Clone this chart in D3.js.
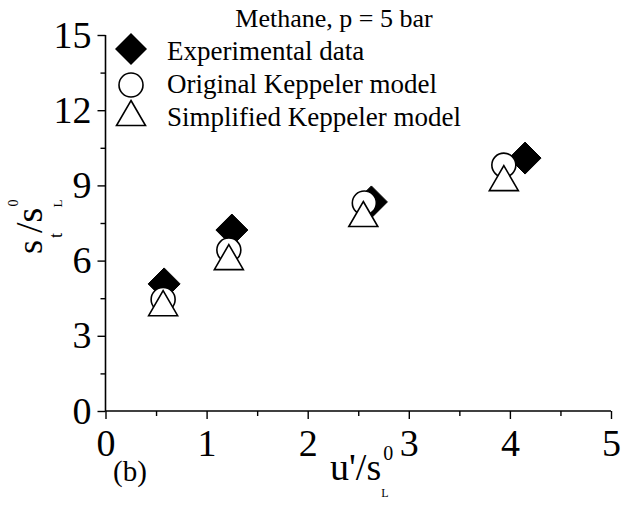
<!DOCTYPE html>
<html>
<head>
<meta charset="utf-8">
<script src="https://cdn.jsdelivr.net/npm/d3@7"></script>
<style>
  html, body { margin: 0; padding: 0; background: #fff; }
  svg { display: block; font-family: "Liberation Serif", "Times New Roman", serif; }
</style>
</head>
<body>
<svg id="chart" width="623" height="505"></svg>
<script>
// Normalised turbulent burning velocity vs. normalised turbulence intensity
const seriesNames = ["Experimental data", "Original Keppeler model", "Simplified Keppeler model"];
const expX  = [0.58, 1.25, 2.63, 4.15];
const expY  = [5.07, 7.22, 8.34, 10.09];
const origX = [0.57, 1.22, 2.56, 3.94];
const origY = [4.45, 6.42, 8.30, 9.81];
const simpX = [0.57, 1.22, 2.55, 3.94];
const simpY = [4.30, 6.14, 7.86, 9.29];
const xTicks = [0, 1, 2, 3, 4, 5];
const yTicks = [0, 3, 6, 9, 12, 15];
const titleText = "Methane, p = 5 bar";
const panelLabel = "(b)";

const svg = d3.select("#chart");
const x = d3.scaleLinear().domain([0, 5]).range([105.5, 611]);
const y = d3.scaleLinear().domain([0, 15]).range([411, 35]);

// axes: major ticks with labels, minor ticks in between
const xAxis = svg.append("g").attr("transform", `translate(0,${y(0)})`)
  .call(d3.axisBottom(x).tickValues(xTicks).tickSize(8).tickPadding(10).tickFormat(d3.format("d")));
svg.append("g").attr("transform", `translate(0,${y(0)})`)
  .call(d3.axisBottom(x).tickValues(d3.range(0.5, 5, 1)).tickSize(5).tickFormat(""))
  .select(".domain").remove();
const yAxis = svg.append("g").attr("transform", `translate(${x(0)},0)`)
  .call(d3.axisLeft(y).tickValues(yTicks).tickSize(8).tickPadding(6).tickFormat(d3.format("d")));
svg.append("g").attr("transform", `translate(${x(0)},0)`)
  .call(d3.axisLeft(y).tickValues(d3.range(1.5, 15, 3)).tickSize(5).tickFormat(""))
  .select(".domain").remove();

svg.selectAll(".domain").attr("stroke", "#000").attr("stroke-width", 1.6);
svg.selectAll(".tick line").attr("stroke", "#000").attr("stroke-width", 1.4);
svg.selectAll(".tick text").attr("fill", "#000")
  .style("font-family", '"Liberation Serif", serif').style("font-size", "38px");
// plain axis lines without the outer tick caps
xAxis.select(".domain").attr("d", `M${x(0)},0H${x(5)}`);
yAxis.select(".domain").attr("d", `M0,${y(0)}V${y(15)}`);

// marker shapes
const diamond = (cx, cy, r) => `M${cx},${cy - r}L${cx + r},${cy}L${cx},${cy + r}L${cx - r},${cy}Z`;
const triangle = (cx, cy, w, h) => `M${cx},${cy - h / 2}L${cx + w / 2},${cy + h / 2}L${cx - w / 2},${cy + h / 2}Z`;

const expData = expX.map((v, i) => [v, expY[i]]);
const origData = origX.map((v, i) => [v, origY[i]]);
const simpData = simpX.map((v, i) => [v, simpY[i]]);

svg.append("g").selectAll("path").data(expData).join("path")
  .attr("d", d => diamond(x(d[0]), y(d[1]), 16))
  .attr("fill", "#000").attr("stroke", "#000").attr("stroke-width", 1);
svg.append("g").selectAll("circle").data(origData).join("circle")
  .attr("cx", d => x(d[0])).attr("cy", d => y(d[1])).attr("r", 12)
  .attr("fill", "#fff").attr("stroke", "#000").attr("stroke-width", 1.6);
svg.append("g").selectAll("path").data(simpData).join("path")
  .attr("d", d => triangle(x(d[0]), y(d[1]), 29, 25))
  .attr("fill", "#fff").attr("stroke", "#000").attr("stroke-width", 1.6);

// legend
const leg = svg.append("g");
leg.append("path").attr("d", diamond(131, 49, 16)).attr("fill", "#000");
leg.append("circle").attr("cx", 131).attr("cy", 85).attr("r", 12)
  .attr("fill", "#fff").attr("stroke", "#000").attr("stroke-width", 1.6);
leg.append("path").attr("d", triangle(131, 113, 29, 25))
  .attr("fill", "#fff").attr("stroke", "#000").attr("stroke-width", 1.6);
const legY = [60, 93, 126];
leg.selectAll("text").data(seriesNames).join("text")
  .attr("x", 167).attr("y", (d, i) => legY[i])
  .attr("font-size", 27).attr("fill", "#000").text(d => d);

// title and panel label
svg.append("text").attr("x", 334).attr("y", 27).attr("text-anchor", "middle")
  .attr("font-size", 26).attr("fill", "#000").text(titleText);
svg.append("text").attr("x", 113).attr("y", 481)
  .attr("font-size", 29).attr("fill", "#000").text(panelLabel);

// x-axis title: u'/s with stacked 0 superscript and L subscript
const xt = svg.append("text").attr("x", 330).attr("y", 480).attr("fill", "#000");
xt.append("tspan").attr("font-size", 38).text("u'/s");
xt.append("tspan").attr("font-size", 20).attr("dx", 2).attr("dy", -20).text("0");
xt.append("tspan").attr("font-size", 12).attr("dx", -12).attr("dy", 37).text("L");

// y-axis title: s_t / s with stacked 0 and L
const yt = svg.append("text").attr("transform", "translate(42,254) rotate(-90)").attr("fill", "#000");
yt.append("tspan").attr("font-size", 36).text("s");
yt.append("tspan").attr("font-size", 18).attr("dx", 2).attr("dy", 20).text("t");
yt.append("tspan").attr("font-size", 38).attr("dy", -20).text("/s");
yt.append("tspan").attr("font-size", 14).attr("dx", 1).attr("dy", -24).text("0");
yt.append("tspan").attr("font-size", 13).attr("dx", -8).attr("dy", 44).text("L");
</script>
</body>
</html>
